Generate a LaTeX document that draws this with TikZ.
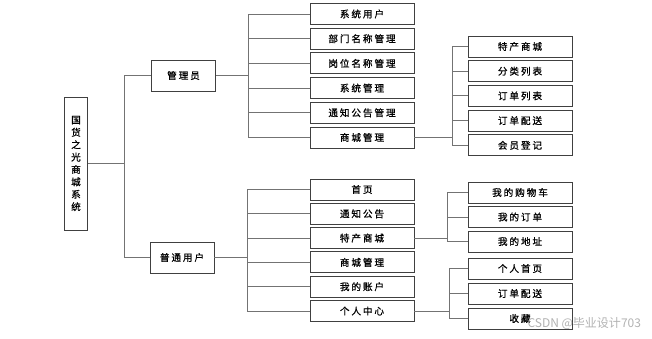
\documentclass[tikz,border=0pt]{standalone}
\usepackage{fontspec}
\setmainfont{Noto Sans CJK SC}
\newfontfamily\boxfont[LetterSpace=20,FakeBold=0.8]{Noto Sans CJK SC}
\newfontfamily\rootfont[FakeBold=0.8]{Noto Sans CJK SC}
\usetikzlibrary{positioning}

\tikzset{
  box/.style={draw=black!75, line width=0.9pt, fill=white, minimum width=104pt, minimum height=21pt, inner sep=0pt, font=\boxfont\fontsize{9.6}{11}\selectfont},
  rolebox/.style={box, minimum width=64pt, minimum height=31pt},
  link/.style={draw=black!55, line width=0.9pt},
}

\begin{document}
\begin{tikzpicture}[x=1pt, y=1pt, node distance=24.7pt]
    \useasboundingbox (0,0) rectangle (652,-338);
    % root and roles
    \node[box, minimum width=23pt, minimum height=133pt, align=center, font=\rootfont\fontsize{9.6}{12.4}\selectfont] (root) at (76,-163.5) {国\\货\\之\\光\\商\\城\\系\\统};
    \node[rolebox] (admin) at (183.5,-75.5) {管理员};
    \node[rolebox] (user) at (182,-257.5) {普通用户};

    % admin modules
    \node[box] (sysuser) at (362,-14) {系统用户};
    \node[box, below of=sysuser] (dept) {部门名称管理};
    \node[box, below of=dept] (post) {岗位名称管理};
    \node[box, below of=post] (sysmgr) {系统管理};
    \node[box, below of=sysmgr] (notice) {通知公告管理};
    \node[box, below of=notice] (shopmgr) {商城管理};

    \node[box] (special) at (520,-46.5) {特产商城};
    \node[box, below of=special] (catlist) {分类列表};
    \node[box, below of=catlist] (orderlist) {订单列表};
    \node[box, below of=orderlist] (delivery) {订单配送};
    \node[box, below of=delivery] (member) {会员登记};

    % user modules
    \node[box] (home) at (362,-189.5) {首页};
    \node[box, below of=home, node distance=24.3pt] (unotice) {通知公告};
    \node[box, below of=unotice, node distance=24.3pt] (ushop) {特产商城};
    \node[box, below of=ushop, node distance=24.3pt] (ushopmgr) {商城管理};
    \node[box, below of=ushopmgr, node distance=24.3pt] (account) {我的账户};
    \node[box, below of=account, node distance=24.3pt] (center) {个人中心};

    \node[box] (cart) at (520,-192.5) {我的购物车};
    \node[box, below of=cart, node distance=24.5pt] (myorder) {我的订单};
    \node[box, below of=myorder, node distance=24.5pt] (address) {我的地址};

    \node[box] (myhome) at (520,-268.5) {个人首页};
    \node[box, below of=myhome, node distance=25pt] (udelivery) {订单配送};
    \node[box, below of=udelivery, node distance=25pt] (favor) {收藏};

    % buses
    \coordinate (trunk) at (124,0);
    \coordinate (busA) at (248,0);
    \coordinate (busB) at (452,0);
    \coordinate (busC) at (247,0);
    \coordinate (busD) at (447,0);
    \coordinate (busE) at (449,0);

    \draw[link] (root.east) -- (root.east -| trunk) |- (admin.west);
    \draw[link] (root.east -| trunk) |- (user.west);

    \draw[link] (admin.east) -- (admin.east -| busA) |- (sysuser.west);
    \draw[link] (admin.east -| busA) |- (dept.west);
    \draw[link] (admin.east -| busA) |- (post.west);
    \draw[link] (admin.east -| busA) |- (sysmgr.west);
    \draw[link] (admin.east -| busA) |- (notice.west);
    \draw[link] (admin.east -| busA) |- (shopmgr.west);

    \draw[link] (shopmgr.east) -- (shopmgr.east -| busB) |- (special.west);
    \draw[link] (shopmgr.east -| busB) |- (catlist.west);
    \draw[link] (shopmgr.east -| busB) |- (orderlist.west);
    \draw[link] (shopmgr.east -| busB) |- (delivery.west);
    \draw[link] (shopmgr.east -| busB) |- (member.west);

    \draw[link] (user.east) -- (user.east -| busC) |- (home.west);
    \draw[link] (user.east -| busC) |- (unotice.west);
    \draw[link] (user.east -| busC) |- (ushop.west);
    \draw[link] (user.east -| busC) |- (ushopmgr.west);
    \draw[link] (user.east -| busC) |- (account.west);
    \draw[link] (user.east -| busC) |- (center.west);

    \draw[link] (ushop.east) -- (ushop.east -| busD) |- (cart.west);
    \draw[link] (ushop.east -| busD) |- (myorder.west);
    \draw[link] (ushop.east -| busD) |- (address.west);

    \draw[link] (center.east) -- (center.east -| busE) |- (myhome.west);
    \draw[link] (center.east -| busE) |- (udelivery.west);
    \draw[link] (center.east -| busE) |- (favor.west);

    % watermark
    \node[anchor=west, text=black!30, font=\fontsize{12}{14}\selectfont] (mark) at (524,-324) {CSDN @毕业设计703};
\end{tikzpicture}
\end{document}
